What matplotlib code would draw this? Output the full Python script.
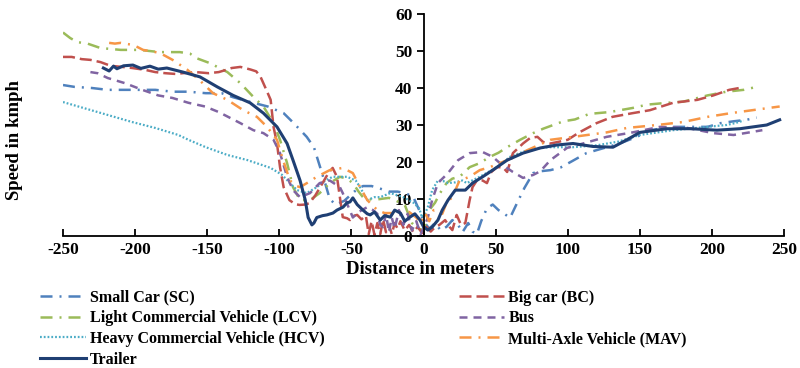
import matplotlib
matplotlib.use("Agg")
import matplotlib.pyplot as plt

plt.rcParams["font.family"] = ["Liberation Serif", "DejaVu Serif"]
plt.rcParams["font.weight"] = "bold"
plt.rcParams["axes.unicode_minus"] = False

# speed profiles (distance in m, speed in kmph) read per vehicle class
sc_d = [-250, -242, -230, -219, -209, -198, -186, -174, -163, -151, -140, -132, -118, -108, -97, -90, -81,
        -76, -72, -68, -65, -61, -55, -48, -42, -36, -30, -24, -18, -12, -7, -3, 0, 4, 8, 12, 16, 20, 24,
        27, 31, 34, 37, 40, 44, 48, 52, 56, 60, 65, 70, 76, 81, 88, 95, 102, 113, 120, 136, 148, 157, 173,
        185, 197, 206, 215, 224, 231]
sc_s = [40.8, 40.3, 40, 39.5, 39.5, 39.5, 39.5, 39, 39, 38.6, 38.6, 37.5, 36, 35, 33.2, 30.5, 26.8,
        24, 19, 14, 10, 8.5, 9.5, 12, 13.5, 13.5, 12.8, 12, 12, 11.5, 10.5, 7, 4, 2, 3.5, 1.5, 2.5, 4.3, 3,
        1, 3.5, 1.2, 0.5, 4, 7.5, 8.5, 7, 6, 4.9, 9, 13, 17, 17.5, 17.8, 18.5, 20, 22.4, 23.2, 25, 26.8,
        28.6, 29.5, 29.5, 29.5, 30.5, 31, 31.4, 32]

bc_d = [-250, -244, -237, -231, -224, -217, -209, -202, -193, -186, -179, -172, -167, -158, -149, -142,
        -136, -133, -127, -120, -116, -113, -109, -106, -104, -101.6, -99.5, -97, -93, -89, -86, -82, -79,
        -75, -70, -66, -63, -60, -58, -56, -53, -51, -48, -46, -43, -40, -38, -36, -34, -32, -30, -28, -26,
        -24, -22, -20, -18, -16, -13, -10, -7, -4, -1, 2, 5, 8, 11, 15, 18, 20, 23, 26, 29, 32, 34, 37, 41,
        44, 47, 51, 55, 58, 62, 69, 74, 79, 83, 88, 93, 100, 108, 120, 131, 145, 157, 173, 190, 201, 212, 219]
bc_s = [48.4, 48.4, 47.8, 47.6, 47, 46, 45.7, 45.4, 44.9, 44.3, 44, 43.8, 44, 44.3, 44, 44.3,
        45, 45.4, 45.7, 45, 44.5, 43, 39.5, 36.8, 29.5, 25, 18.6, 13.2, 9.7, 8.6, 8.4, 8.5, 8.9,
        11, 14.3, 17, 18.4, 16, 10.5, 5.1, 4.8, 4.3, 5.5, 5.7, 4.5, 5.5, 0.5, 4, 0.3, 3.5, 0.5, 4.5, 1,
        3, 0.5, 3.5, 2, 4, 1.5, 3, 1, 2.5, 0.8, 2.5, 1.2, 2.4, 3, 4.3, 2.5, 1.6, 5.7, 3, 3.5, 9.7, 13.2, 15, 15,
        14.3, 17.3, 18.6, 18.6, 17.3, 22.4, 25, 26.5, 26.8, 25.4, 25, 25.4, 26, 28, 30.5, 32.2, 33.2, 34, 36,
        36.8, 38, 39.5, 40]

lcv_d = [-250, -245, -240, -233, -224, -210, -197, -183, -169, -162, -157, -148, -136, -127, -118, -111,
         -104, -99.5, -94.6, -90.5, -85.6, -78.7, -72, -65, -58, -53, -49, -45, -42, -35, -30, -24, -20,
         -13, -8, -4, 0, 4, 8, 11.5, 16, 20, 25, 32, 39, 46, 52, 58, 67, 76, 83, 90, 97, 105, 115, 129, 145,
         155, 169, 180, 197, 210, 222, 231]
lcv_s = [55, 53.5, 52.4, 52, 50.8, 50.3, 50.3, 49.7, 49.7, 49.3, 48, 46.7, 44.3, 41.3, 37.6, 35,
         30.5, 26, 19.7, 13.2, 9.7, 9.7, 11.6, 14.3, 16, 15.5, 14.3, 12, 10.5, 9.7, 10, 10.3, 9.7,
         8.4, 3.5, 2, 1.6, 7, 9, 11.6, 14.3, 15.5, 16, 18.6, 19.7, 21.4, 22.5, 24, 26, 27.8, 29, 30, 31, 31.5,
         33, 33.5, 34.6, 35.5, 36, 36.3, 38, 39, 39.5, 40.3]

bus_d = [-231, -226, -219, -207, -195, -184, -174, -163, -151.5, -142, -127, -118, -111, -104, -99.5, -94.6,
         -90.5, -85.6, -78.7, -72, -65, -58, -56, -52, -49, -45, -39, -35, -32, -30, -28, -26, -24, -22, -20,
         -17, -14, -11, -8, -5, -2, 1, 3, 6, 10, 17, 24, 32, 41, 48, 53, 62, 69, 76, 81, 88, 99.5, 110.6, 127,
         145, 164, 183, 201, 215, 226, 235]
bus_s = [44.3, 44, 42.7, 41.3, 39.5, 38, 37.3, 36, 35, 33.5, 30.5, 28.6, 27.8, 26, 22.4, 16,
         12.4, 10.5, 11.6, 14.3, 15, 13.2, 11.6, 7.8, 5, 6.5, 7.8, 7, 6, 3, 2.4, 6, 1, 5, 2,
         7, 3, 6, 1.5, 4, 0.5, 3, 5, 9.7, 14.3, 17, 20.5, 22.4, 22.7, 21.4, 19.7, 17.3, 15.7, 16.5, 17.5, 20.5,
         23.8, 25, 26.8, 28, 29.5, 29.2, 27.8, 27.3, 28, 28.6]

hcv_d = [-250, -226, -202, -186, -170, -163, -151, -136, -122, -106, -98, -92.6, -87.7, -81, -74, -68, -63,
         -53, -47, -44, -39, -34, -30, -23, -18, -14, -7, -3, -1, 1, 3, 6, 10, 14, 17, 22, 27, 30, 39, 51, 60,
         72, 86, 103.7, 120, 135, 150, 173, 197, 210, 216, 222]
hcv_s = [36.2, 33.5, 30.8, 29.2, 27.3, 26, 24, 21.9, 20.5, 18.4, 16.5, 14.3, 12.4, 11.6, 13.2, 15, 16,
         16, 15, 13.2, 9.7, 10.5, 10.5, 11.6, 11, 10.5, 9, 7.5, 5, 6, 7.8, 12.4, 15, 14.8, 14.3, 14.5, 15, 14.3,
         16, 18.6, 21.4, 23.2, 24, 24, 24.5, 25.5, 27.3, 28.6, 29.5, 30, 30.5, 31.2]

mav_d = [-218, -214, -210, -201, -194.5, -183, -174, -164, -155, -146, -136, -125, -115.5, -108.5, -101.6,
         -97.4, -92.6, -88, -85.6, -80, -74, -65, -56, -49, -44, -39, -32, -27, -21, -15, -10, -5, -2, 1, 4, 7,
         10, 13, 16, 20, 25, 32, 39, 46, 58, 72, 88, 104, 127, 141, 162, 180, 197, 213, 228, 247]
mav_s = [52.2, 52, 52.2, 51.6, 50.3, 49.5, 47.6, 45, 42, 38.6, 36.8, 34, 32.2, 29.5, 26,
         20.5, 15, 13.5, 13.2, 14.5, 16, 17.8, 18.4, 17, 13.2, 9.7, 7, 6.2, 6.2, 5.5, 6.5, 5, 3.5, 6.2, 4, 7,
         7, 6, 9, 10.5, 15, 16, 17.8, 18.6, 20.5, 23.2, 26, 26.8, 28, 29.2, 30, 30.8, 32.2, 33.2, 34, 35]

tr_d = [-222, -218, -215, -212.6, -208, -201.5, -196, -189.7, -184, -178, -166.8, -155, -143, -132, -120.3,
        -111, -101.6, -94.6, -90.5, -85.6, -82, -80, -77.4, -76, -74, -70, -67, -62.8, -60, -55.8, -53, -51,
        -49, -46, -42, -39, -37, -34, -30, -27, -23, -20, -16, -13, -9.4, -6, -2.4, 0, 3, 6, 10, 13, 17, 22,
        29, 34, 41, 48, 58, 69, 81, 92.6, 103.7, 117.5, 131.4, 141, 150, 169, 185, 203.5, 219.5, 238, 247]
tr_s = [45.4, 44.6, 45.9, 45.2, 46, 46.2, 45.3, 45.9, 45.1, 45.4, 44.3, 43, 40.3, 38, 36,
        33.2, 29.5, 25, 20.5, 15, 9.7, 5, 3, 3.5, 5, 5.5, 5.7, 6.2, 7, 7.8, 9, 9.2,
        10.3, 8.5, 7, 6, 5.7, 6.5, 4.3, 5.5, 5.1, 7, 6.2, 4, 5.1, 6, 4.3, 2.5, 1.6, 2.4, 4.3, 7, 9.7, 12.4,
        12.4, 14.3, 16, 17.8, 20.5, 22.4, 23.8, 24.6, 25, 24.2, 24, 26, 28, 29, 29, 28.6, 29, 30, 31.4]

fig = plt.figure(figsize=(8, 3.68), dpi=100)
ax = fig.add_axes([63 / 800, 132 / 368, 721 / 800, 222 / 368])

lw = 1.8
h_sc, = ax.plot(sc_d, sc_s, color="#4F81BD", lw=lw, dashes=(4.8, 2.8, 0.8, 2.8), label="Small Car (SC)")
h_lcv, = ax.plot(lcv_d, lcv_s, color="#9BBB59", lw=lw, dashes=(4.8, 2.8, 0.8, 2.8),
                 label="Light Commercial Vehicle (LCV)")
h_hcv, = ax.plot(hcv_d, hcv_s, color="#4BACC6", lw=1.6, dashes=(0.8, 0.9),
                 label="Heavy Commercial Vehicle (HCV)")
h_bc, = ax.plot(bc_d, bc_s, color="#C0504D", lw=lw, dashes=(4.8, 2.0), label="Big car (BC)")
h_bus, = ax.plot(bus_d, bus_s, color="#8064A2", lw=lw, dashes=(3.2, 2.4), label="Bus")
h_mav, = ax.plot(mav_d, mav_s, color="#F79646", lw=lw, dashes=(4.8, 2.8, 0.8, 2.8),
                 label="Multi-Axle Vehicle (MAV)")
h_tr, = ax.plot(tr_d, tr_s, color="#1F3F73", lw=2.2, label="Trailer")

ax.set_xlim(-250, 250)
ax.set_ylim(0, 60)
ax.set_xticks(range(-250, 251, 50))
ax.set_yticks(range(0, 61, 10))

ax.spines["left"].set_position(("data", 0))
ax.spines["top"].set_visible(False)
ax.spines["right"].set_visible(False)
for sp in ("left", "bottom"):
    ax.spines[sp].set_linewidth(1.3)
ax.tick_params(axis="x", direction="in", length=5, width=1.3, labelsize=12.5, pad=4)
ax.tick_params(axis="y", direction="out", length=5, width=1.3, labelsize=12.5, pad=3)
for t in ax.get_xticklabels() + ax.get_yticklabels():
    t.set_fontweight("bold")

fig.text(0.5 * (63 + 784) / 800 - 0.004, 1 - 270 / 368, "Distance in meters", ha="center", va="center",
         fontsize=13.5, fontweight="bold")
fig.text(15 / 800, 1 - 140 / 368, "Speed in kmph", rotation=90, ha="center", va="center",
         fontsize=13.5, fontweight="bold")

handles = [h_sc, h_lcv, h_hcv, h_tr, h_bc, h_bus, h_mav]
fig.legend(handles=handles, labels=[h.get_label() for h in handles], ncol=2,
           loc="upper left", bbox_to_anchor=(40 / 800, 1 - 289.5 / 368), frameon=False,
           borderpad=0, borderaxespad=0, handlelength=2.85, handletextpad=0.26,
           columnspacing=8.4, labelspacing=0.3, prop={"size": 11.5, "weight": "bold"})

fig.savefig("out.png", dpi=100)
